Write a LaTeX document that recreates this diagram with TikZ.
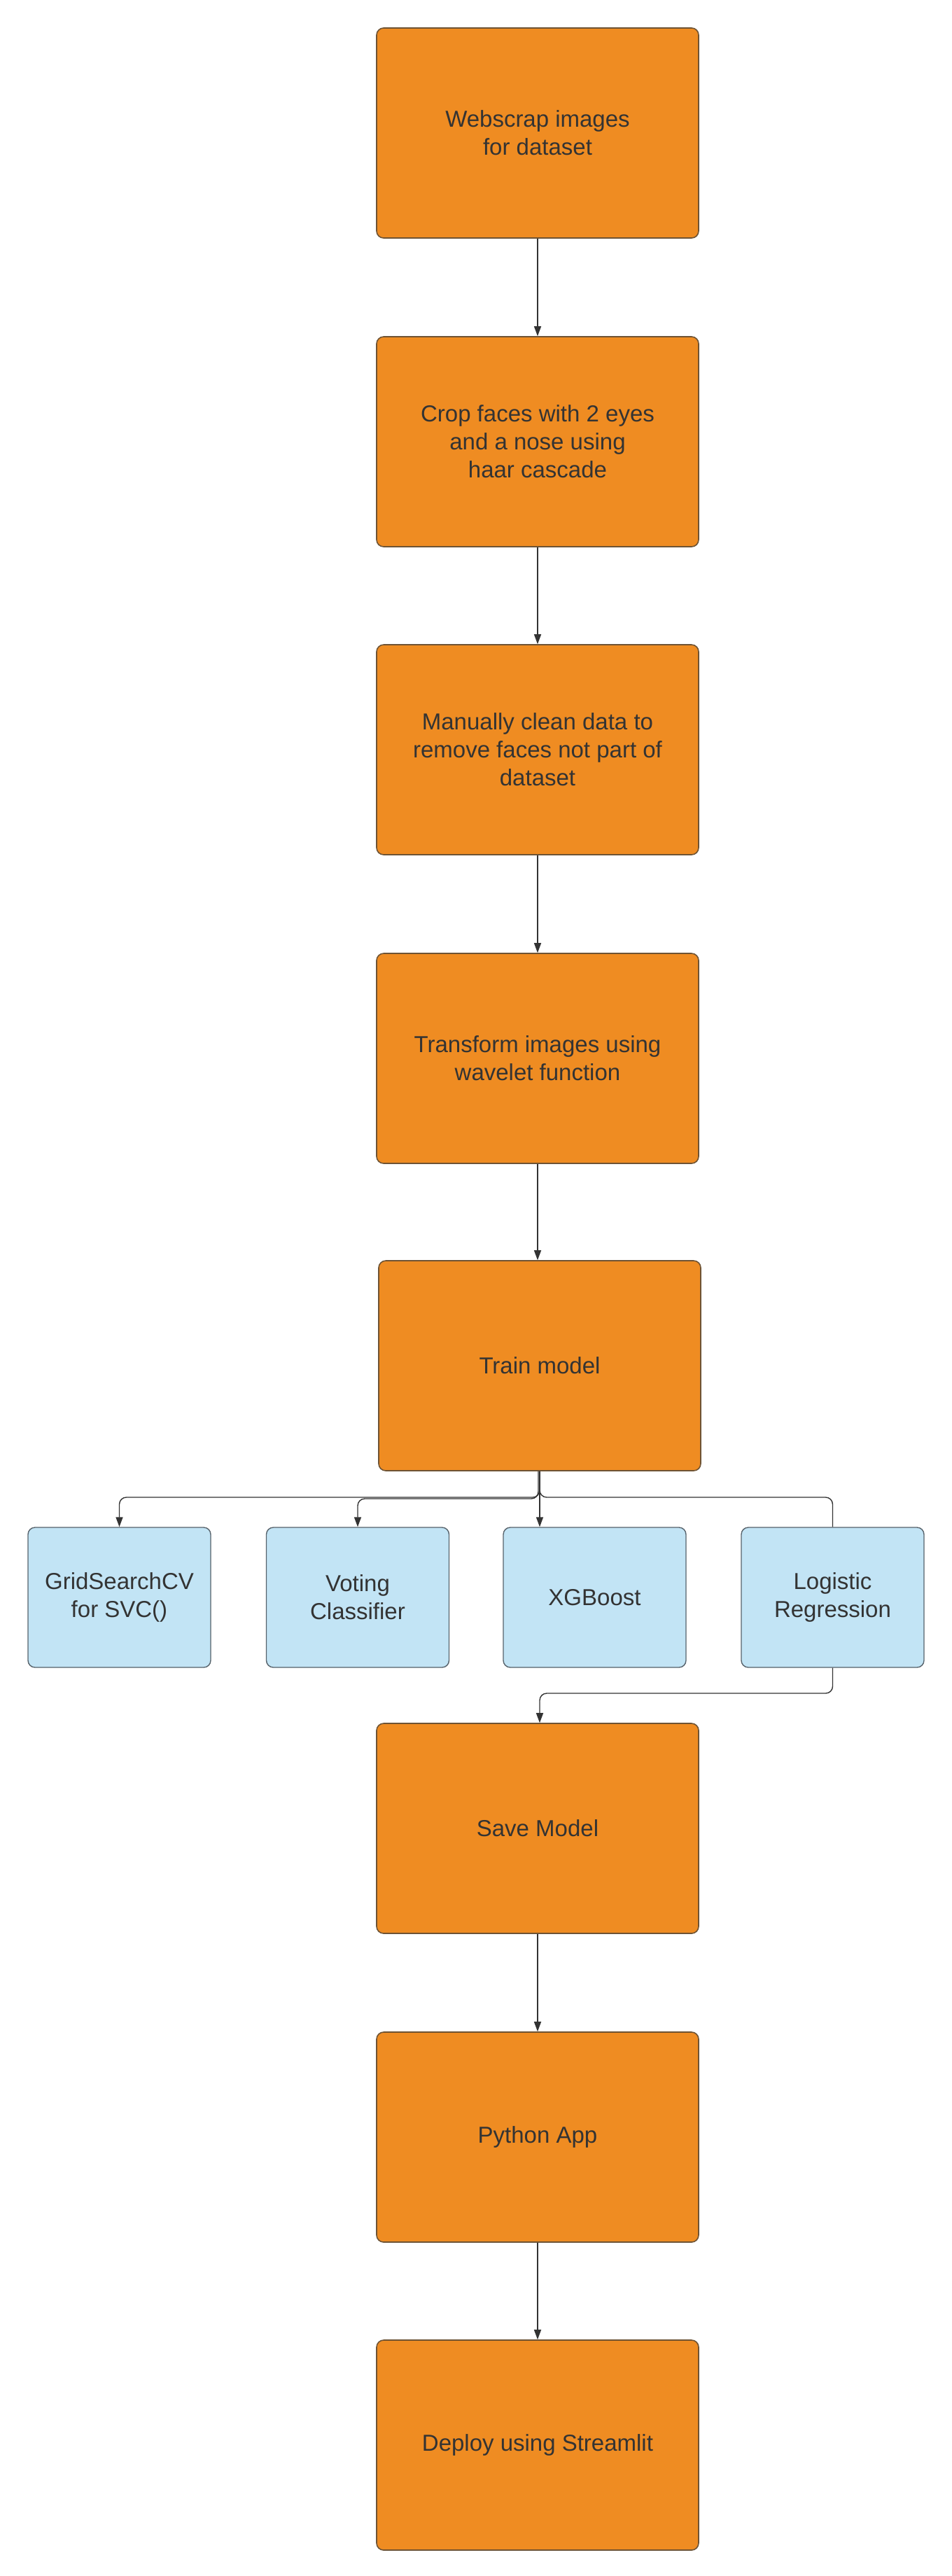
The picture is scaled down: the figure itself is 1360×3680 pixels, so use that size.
\documentclass[tikz,border=0pt]{standalone}
\usepackage{fontspec}
\setmainfont{Liberation Sans}
\usetikzlibrary{arrows.meta}
\definecolor{orfill}{HTML}{EF8C22}
\definecolor{ordraw}{HTML}{6E5334}
\definecolor{blfill}{HTML}{C2E4F5}
\definecolor{bldraw}{HTML}{56626B}
\definecolor{txt}{HTML}{333333}
\definecolor{ln}{HTML}{333333}
\tikzset{
  orangebox/.style={draw=ordraw, fill=orfill, line width=0.8pt, rounded corners=5pt,
    minimum width=230pt, minimum height=150pt, inner sep=0pt, align=center,
    text=txt, font=\fontsize{16.5}{20}\selectfont},
  bluebox/.style={draw=bldraw, fill=blfill, line width=0.7pt, rounded corners=5pt,
    minimum width=130.5pt, minimum height=100pt, inner sep=0pt, align=center,
    text=txt, font=\fontsize{16.5}{20}\selectfont},
  conn/.style={draw=ln, line width=0.7pt, -{Triangle[length=7pt,width=5pt]}},
  plainconn/.style={draw=ln, line width=0.7pt}
}
\begin{document}
\begin{tikzpicture}[x=0.5pt,y=-0.5pt]
\path[fill=white] (0,0) rectangle (1360,3680);
\useasboundingbox (0,0) rectangle (1360,3680);

\node[orangebox] (b1) at (768,190) {Webscrap images\\for dataset};
\node[orangebox] (b2) at (768,631) {Crop faces with 2 eyes\\and a nose using\\haar cascade};
\node[orangebox] (b3) at (768,1071) {Manually clean data to\\remove faces not part of\\dataset};
\node[orangebox] (b4) at (768,1512) {Transform images using\\wavelet function};
\node[orangebox] (b5) at (771,1951) {Train model};

\node[bluebox] (g1) at (170.5,2282) {GridSearchCV\\for SVC()};
\node[bluebox] (g2) at (511,2282) {Voting\\Classifier};
\node[bluebox] (g3) at (849.5,2282) {XGBoost};
\node[bluebox] (g4) at (1189.5,2282) {Logistic\\Regression};

\node[orangebox] (s1) at (768,2612) {Save Model};
\node[orangebox] (p1) at (768,3053) {Python App};
\node[orangebox] (d1) at (768,3493) {Deploy using Streamlit};

\coordinate (hbar) at (0,2139);
\coordinate (lbar) at (0,2419);

\draw[conn] (b1.south) -- (b2.north);
\draw[conn] (b2.south) -- (b3.north);
\draw[conn] (b3.south) -- (b4.north);
\draw[conn] (b4.south) -- (b4.south |- b5.north);

\draw[conn, rounded corners=5pt] (b5.south) |- (g1.north |- hbar) -- (g1.north);
\draw[conn, rounded corners=5pt] ([xshift=-1pt]b5.south) |- ([yshift=-1pt]g2.north |- hbar) -- (g2.north);
\draw[conn] (b5.south) -- (b5.south |- g3.north);
\draw[plainconn, rounded corners=5pt] (b5.south) |- (g4.north |- hbar) -- (g4.north);

\draw[conn, rounded corners=5pt] (g4.south) |- (b5.south |- lbar) -- (b5.south |- s1.north);

\draw[conn] (s1.south) -- (p1.north);
\draw[conn] (p1.south) -- (d1.north);
\end{tikzpicture}
\end{document}
